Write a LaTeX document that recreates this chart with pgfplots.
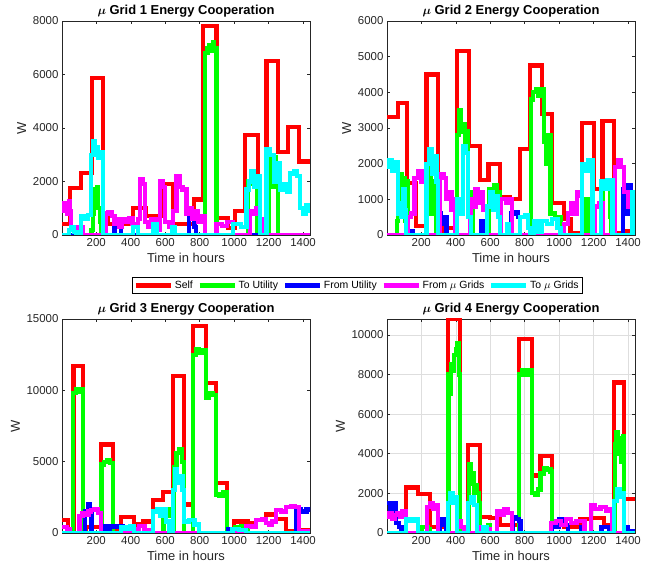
\documentclass[border=0pt]{standalone}
\usepackage{pgfplots}
\pgfplotsset{compat=1.18}
\usepackage{fontspec}
\setmainfont{Liberation Sans}
\definecolor{axisgray}{RGB}{38,38,38}
\definecolor{mred}{RGB}{255,0,0}
\definecolor{mgreen}{RGB}{0,255,0}
\definecolor{mblue}{RGB}{0,0,255}
\definecolor{mmag}{RGB}{255,0,255}
\definecolor{mcyan}{RGB}{0,255,255}
\pgfplotsset{
  mystyle/.style={
    scale only axis, width=248bp, height=214bp,
    xmin=1, xmax=1440, ymin=0,
    xtick={200,400,...,1400},
    axis line style={color=axisgray, line width=0.5bp},
    tick style={color=axisgray, line width=0.5bp},
    major tick length=3bp,
    tick label style={font=\fontsize{11.5}{13}\selectfont, text=axisgray},
    label style={font=\fontsize{13}{15}\selectfont, text=axisgray},
    title style={font=\bfseries\fontsize{13}{15}\selectfont, yshift=-6bp},
    xlabel={Time in hours}, ylabel={W},
    /pgf/number format/1000 sep={},
    /pgf/number format/assume math mode=true,
    scaled y ticks=false,
    every axis plot/.append style={const plot, line width=4.2bp, line join=miter},
    legend image code/.code={\draw[#1] (0bp,0bp) -- (35bp,0bp);},
  }
}
\begin{document}
\begin{tikzpicture}
\useasboundingbox (0,0) rectangle (651bp,570bp);
% ---------------- Grid 1
\begin{axis}[mystyle, at={(62bp,335bp)}, anchor=south west,
  title={{\boldmath$\mu$} Grid 1 Energy Cooperation},
  ymax=8000, ytick={0,2000,...,8000},
  legend style={at={(1.19,-0.236)}, anchor=center, legend columns=5,
    font=\fontsize{10.5}{12}\selectfont, draw=black, line width=0.5bp,
    inner sep=1.5bp, nodes={inner sep=1.8bp},
    /tikz/every even column/.append style={column sep=3bp}},
  legend entries={Self, To Utility, From Utility, From $\mu$ Grids, To $\mu$ Grids}]
\addplot[mred] coordinates {(1,400) (48,1750) (112,2330) (175,5880) (238,800) (270,400) (413,1000) (487,700) (587,1900) (645,400) (765,1330) (820,7800) (897,650) (965,250) (1004,900) (1062,3750) (1140,250) (1188,6500) (1256,3100) (1314,4050) (1378,2750) (1440,2750)};
\addplot[mgreen] coordinates {(1,0) (165,0) (172,200) (180,800) (188,1700) (196,1200) (204,1800) (212,1000) (220,500) (228,0) (830,0) (832,6800) (845,7000) (855,7100) (865,6900) (875,7200) (885,7000) (897,0) (1075,0) (1078,2000) (1100,1900) (1120,2050) (1132,0) (1200,0) (1203,2900) (1215,2500) (1225,1800) (1235,2900) (1245,2400) (1256,0) (1440,0)};
\addplot[mblue] coordinates {(1,0) (300,0) (306,550) (320,300) (330,600) (345,0) (735,0) (738,800) (750,900) (760,700) (770,300) (780,0) (1440,0)};
\addplot[mmag] coordinates {(1,1000) (8,1200) (16,900) (24,1150) (32,800) (40,1250) (48,900) (54,200) (70,300) (90,100) (103,0) (112,300) (120,0) (250,0) (254,800) (270,850) (290,700) (306,400) (320,600) (335,300) (350,600) (370,500) (390,650) (410,400) (440,600) (452,2100) (470,1900) (481,500) (500,300) (520,600) (545,200) (568,2000) (585,1800) (597,500) (620,300) (645,900) (665,2200) (684,1800) (700,1700) (723,800) (740,1000) (755,600) (770,900) (790,500) (810,700) (830,0) (897,400) (930,350) (960,500) (994,0) (1091,900) (1110,800) (1130,1000) (1150,600) (1169,0) (1440,0)};
\addplot[mcyan] coordinates {(1,0) (40,200) (55,300) (70,100) (85,0) (112,700) (130,600) (150,750) (170,3000) (180,3500) (190,3000) (200,3300) (212,2900) (225,3100) (238,0) (413,300) (442,0) (530,400) (550,0) (640,300) (655,0) (994,400) (1040,300) (1072,1700) (1085,2000) (1100,2400) (1115,1800) (1130,2200) (1149,0) (1188,3200) (1210,3000) (1230,2000) (1250,2700) (1266,1700) (1290,1900) (1305,1600) (1324,2300) (1345,2400) (1365,2200) (1382,1000) (1400,800) (1415,1100) (1430,900) (1440,900)};
\end{axis}
% ---------------- Grid 2
\begin{axis}[mystyle, at={(387bp,335bp)}, anchor=south west,
  title={{\boldmath$\mu$} Grid 2 Energy Cooperation},
  ymax=6000, ytick={0,1000,...,6000}]
\addplot[mred] coordinates {(1,3300) (64,3700) (117,1450) (167,250) (230,4500) (298,100) (327,200) (405,5150) (479,2500) (541,1550) (590,2000) (658,1050) (716,1000) (775,2400) (833,4750) (901,3400) (960,900) (1027,450) (1066,50) (1134,3150) (1202,1300) (1251,3200) (1319,50) (1377,100) (1440,100)};
\addplot[mgreen] coordinates {(1,0) (55,0) (58,400) (65,1500) (75,1700) (85,900) (95,1600) (105,400) (113,1500) (122,0) (230,0) (235,1800) (245,2000) (255,600) (265,1500) (275,900) (288,0) (405,0) (408,2800) (418,3500) (428,2900) (440,3100) (452,2300) (465,2900) (473,1200) (490,1000) (502,0) (590,0) (595,1300) (620,1400) (640,1200) (658,0) (833,0) (838,3800) (850,4000) (865,4100) (880,3900) (895,4100) (911,2600) (925,2000) (938,2800) (950,600) (975,500) (1008,0) (1140,0) (1150,1000) (1165,0) (1251,0) (1255,1500) (1275,1450) (1295,500) (1300,0) (1440,0)};
\addplot[mblue] coordinates {(1,0) (122,0) (125,100) (150,0) (298,0) (300,600) (315,300) (330,500) (346,0) (541,0) (545,400) (560,0) (716,0) (720,600) (740,650) (760,500) (775,0) (1367,0) (1370,1300) (1385,600) (1400,1400) (1415,600) (1426,0) (1440,0)};
\addplot[mmag] coordinates {(1,0) (122,0) (125,500) (140,600) (161,1600) (180,1800) (200,1500) (215,1800) (230,0) (298,0) (310,1700) (330,1600) (345,1000) (360,1200) (375,700) (385,1000) (395,0) (481,0) (485,1000) (500,800) (515,1300) (530,900) (545,1200) (560,700) (579,0) (658,0) (660,1000) (690,900) (710,1000) (727,0) (1027,0) (1030,300) (1050,600) (1070,900) (1090,600) (1105,1200) (1120,1100) (1134,0) (1202,0) (1205,800) (1230,900) (1251,0) (1319,0) (1322,1900) (1340,2100) (1360,1900) (1377,1200) (1400,800) (1420,1200) (1440,1200)};
\addplot[mcyan] coordinates {(1,1900) (15,2100) (30,1800) (45,2050) (64,600) (75,900) (85,500) (95,1300) (105,700) (113,0) (230,2000) (245,2400) (260,1700) (275,2200) (288,1500) (298,0) (405,1000) (425,600) (444,2500) (458,2300) (473,500) (490,0) (579,800) (600,1200) (615,700) (630,1100) (645,500) (658,0) (700,300) (710,0) (775,500) (800,550) (820,200) (833,0) (852,400) (880,100) (900,400) (930,300) (960,450) (990,200) (1008,0) (1134,2000) (1150,1800) (1170,2100) (1193,0) (1241,1500) (1260,1300) (1280,1550) (1309,0) (1420,0) (1425,1200) (1440,1200)};
\end{axis}
% ---------------- Grid 3
\begin{axis}[mystyle, at={(62bp,37bp)}, anchor=south west,
  title={{\boldmath$\mu$} Grid 3 Energy Cooperation},
  ymax=15000, ytick={0,5000,10000,15000}]
\addplot[mred] coordinates {(1,900) (35,0) (68,11700) (122,300) (141,400) (228,6200) (295,100) (344,1100) (421,600) (469,800) (527,2300) (585,2900) (643,11000) (710,2000) (759,14500) (836,10500) (894,3500) (958,300) (1000,800) (1077,700) (1125,900) (1183,1300) (1241,1000) (1299,100) (1377,200) (1440,200)};
\addplot[mgreen] coordinates {(1,0) (64,0) (66,9800) (80,10100) (95,9900) (110,10100) (122,0) (228,0) (230,4800) (245,5000) (260,5100) (280,4900) (295,0) (585,0) (590,1500) (610,1700) (625,1200) (643,0) (652,4600) (665,5600) (680,5900) (695,5000) (710,0) (759,0) (762,12500) (780,12900) (795,12600) (815,12800) (836,9500) (855,9800) (875,9700) (894,2700) (915,2600) (935,2900) (958,0) (1000,0) (1005,400) (1040,500) (1077,0) (1440,0)};
\addplot[mblue] coordinates {(1,0) (133,0) (135,1500) (150,2000) (160,1700) (172,0) (228,0) (240,500) (260,300) (280,500) (300,400) (325,500) (353,0) (958,0) (965,300) (990,200) (1000,0) (1357,0) (1360,1700) (1390,1500) (1420,1700) (1440,1500)};
\addplot[mmag] coordinates {(1,400) (30,300) (45,0) (103,1200) (120,1400) (140,1300) (155,1500) (170,1600) (190,1700) (210,1400) (228,0) (421,300) (450,500) (480,200) (527,0) (1068,500) (1100,400) (1125,900) (1160,1000) (1183,700) (1202,600) (1220,800) (1241,1600) (1270,1500) (1299,1800) (1330,1900) (1355,1800) (1377,100) (1440,100)};
\addplot[mcyan] coordinates {(1,0) (344,400) (370,300) (395,500) (421,0) (527,1500) (550,1700) (570,1200) (585,1700) (605,800) (623,0) (643,3000) (655,4500) (670,3500) (685,4000) (700,3000) (710,800) (740,900) (770,600) (797,0) (990,300) (1030,200) (1068,0) (1440,0)};
\end{axis}
% ---------------- Grid 4
\begin{axis}[mystyle, at={(387bp,37bp)}, anchor=south west,
  title={{\boldmath$\mu$} Grid 4 Energy Cooperation},
  ymax=10800, ytick={0,2000,...,10000},
  grid=major, major grid style={color=black!13, line width=0.5bp}]
\addplot[mred] coordinates {(1,1000) (113,2300) (181,1950) (249,300) (356,10800) (424,300) (473,4450) (541,800) (599,750) (658,400) (765,9800) (843,2900) (892,3900) (960,400) (1027,300) (1124,700) (1183,750) (1261,400) (1319,7600) (1377,1700) (1440,1700)};
\addplot[mgreen] coordinates {(1,0) (200,0) (205,300) (240,200) (249,0) (356,0) (358,8000) (365,7000) (372,8500) (380,8200) (390,9000) (400,9300) (410,9600) (418,8000) (424,0) (473,0) (476,3500) (485,2500) (495,3000) (505,2000) (515,2400) (525,2000) (535,1500) (541,0) (580,0) (585,400) (600,0) (765,0) (768,8000) (785,8200) (800,8000) (820,8200) (843,2000) (860,1900) (875,2200) (892,3000) (910,3300) (930,3200) (950,3100) (960,0) (1319,0) (1322,4500) (1330,5100) (1340,4000) (1350,4800) (1360,3600) (1370,4900) (1377,0) (1440,0)};
\addplot[mblue] coordinates {(1,1500) (20,1000) (35,1500) (55,500) (70,300) (85,0) (307,0) (310,700) (330,400) (346,0) (727,0) (730,800) (750,700) (765,600) (776,0) (952,0) (955,400) (980,300) (1000,700) (1020,400) (1050,0) (1124,0) (1130,300) (1150,0) (1241,0) (1245,300) (1290,200) (1319,0) (1377,0) (1380,300) (1400,100) (1440,100)};
\addplot[mmag] coordinates {(1,800) (15,1000) (30,700) (45,900) (60,1000) (75,800) (90,1100) (113,0) (230,0) (232,1300) (250,1500) (270,1200) (290,1400) (298,0) (405,600) (430,300) (450,0) (541,300) (580,200) (600,0) (638,1100) (660,900) (680,1200) (700,1000) (726,0) (952,500) (980,600) (1010,400) (1040,700) (1070,500) (1100,600) (1147,0) (1183,1400) (1210,1200) (1240,1300) (1270,1100) (1290,1200) (1309,0) (1440,0)};
\addplot[mcyan] coordinates {(1,0) (113,700) (135,600) (160,700) (181,0) (356,1500) (370,2000) (385,1500) (395,1800) (405,0) (473,1500) (490,1800) (505,1400) (522,0) (560,300) (580,0) (1319,1600) (1335,2200) (1350,1800) (1365,2000) (1377,0) (1440,0)};
\end{axis}
\end{tikzpicture}
\end{document}
